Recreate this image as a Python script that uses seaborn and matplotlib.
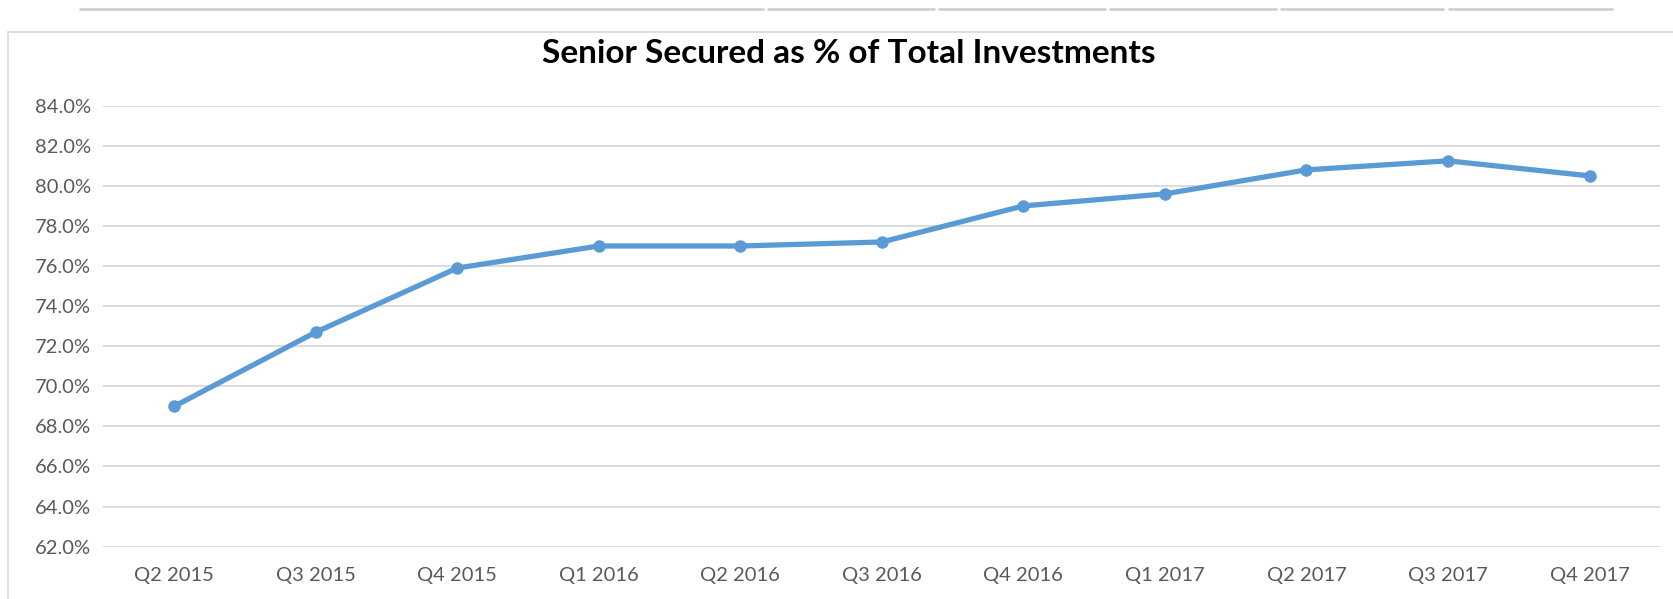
import matplotlib
matplotlib.use("Agg")
import matplotlib.pyplot as plt
import seaborn as sns
import pandas as pd
from matplotlib.lines import Line2D
from matplotlib.patches import Rectangle

quarters = ["Q2 2015", "Q3 2015", "Q4 2015", "Q1 2016", "Q2 2016", "Q3 2016",
            "Q4 2016", "Q1 2017", "Q2 2017", "Q3 2017", "Q4 2017"]
senior_secured_pct = [69.0, 72.7, 75.9, 77.0, 77.0, 77.2, 79.0, 79.6, 80.8, 81.25, 80.5]
y_ticks = [62, 64, 66, 68, 70, 72, 74, 76, 78, 80, 82, 84]
title = "Senior Secured as % of Total Investments"

sns.set_theme(style="white")
plt.rcParams['font.family'] = ['Lato', 'DejaVu Sans']

df = pd.DataFrame({"quarter": quarters, "pct": senior_secured_pct})

fig = plt.figure(figsize=(16.74, 5.99), dpi=100)
ax = fig.add_axes([0.0618, 0.0875, 0.930, 0.736])

sns.lineplot(data=df, x="quarter", y="pct", ax=ax, sort=False, color="#5B9BD5",
             linewidth=3.8, marker="o", markersize=9, markeredgewidth=0, zorder=3)

ax.set_xlim(-0.5, len(quarters) - 0.5)
ax.set_ylim(62, 84)
ax.set_yticks(y_ticks)
ax.set_yticklabels([f"{v:.1f}%" for v in y_ticks])
ax.yaxis.grid(True, color="#D9D9D9", linewidth=1.3)
ax.xaxis.grid(False)
for s in ax.spines.values():
    s.set_visible(False)
ax.tick_params(axis="both", length=0, labelsize=14.5, colors="#595959", pad=9)
ax.tick_params(axis="x", pad=15)
ax.set_xlabel("")
ax.set_ylabel("")

fig.text(0.507, 0.91, title, ha="center", va="center", fontsize=24,
         fontweight="bold", color="#000000")

# chart border
fig.add_artist(Rectangle((8.5 / 1674, -0.01), 1.02, 1 - 32 / 599 + 0.01,
                         transform=fig.transFigure, fill=False,
                         edgecolor="#D9D9D9", linewidth=1.2))
# partial separators of element above
segs = [(80, 763), (768, 934), (939, 1105), (1110, 1276), (1281, 1443), (1449, 1612)]
for x0, x1 in segs:
    fig.add_artist(Line2D([x0 / 1674, x1 / 1674], [1 - 9 / 599, 1 - 9 / 599],
                          transform=fig.transFigure, color="#D0D0D0", linewidth=2))

fig.savefig("out.png", dpi=100)
